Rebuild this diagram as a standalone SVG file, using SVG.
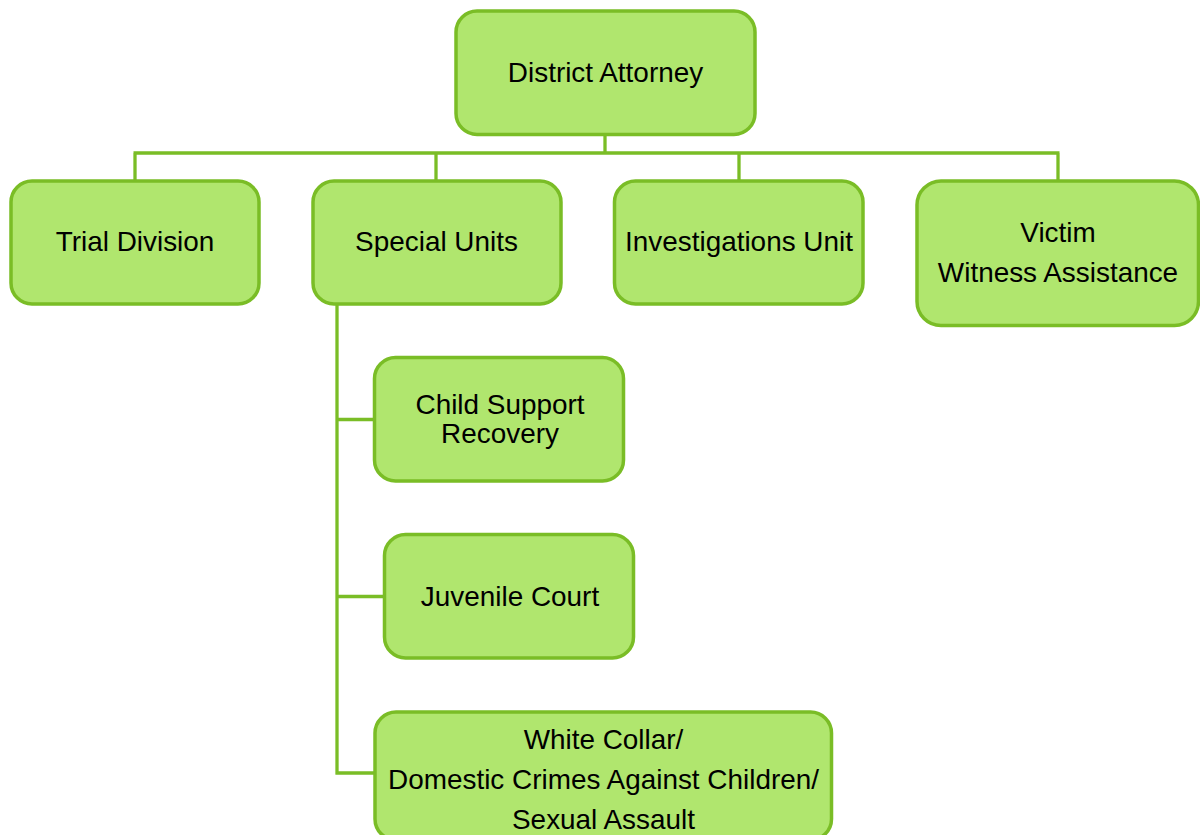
<svg xmlns="http://www.w3.org/2000/svg" width="1200" height="835" viewBox="0 0 1200 835">
<style>
.box{fill:#b0e66e;stroke:#7abd26;stroke-width:3.5}
.lbl{font-family:"Liberation Sans",Arial,sans-serif;font-size:27.9px;fill:#000;text-anchor:middle}
.con{fill:none;stroke:#7abd26;stroke-width:3.3}
</style>
<rect width="1200" height="835" fill="#fff"/>
<g id="connectors">
<path class="con" d="M605,135 V153 M133.5,153 H1059.5 M135,153 V180 M436,153 V180 M739,153 V180 M1058,153 V180"/>
<path class="con" d="M337,305 V774.5 M337,419.5 H374 M337,596.5 H384 M335.5,773 H375"/>
</g>
<g id="district-attorney">
<rect class="box" x="456" y="11" width="299" height="123.5" rx="21"/>
<text class="lbl" x="605.5" y="82">District Attorney</text>
</g>
<g id="trial-division">
<rect class="box" x="11" y="181" width="248" height="123" rx="21"/>
<text class="lbl" x="135" y="251">Trial Division</text>
</g>
<g id="special-units">
<rect class="box" x="313" y="181" width="248" height="123" rx="21"/>
<text class="lbl" x="436.5" y="251">Special Units</text>
</g>
<g id="investigations-unit">
<rect class="box" x="614.5" y="181" width="248.5" height="123" rx="21"/>
<text class="lbl" x="739" y="251">Investigations Unit</text>
</g>
<g id="victim-witness">
<rect class="box" x="917" y="181" width="281.5" height="144.5" rx="24"/>
<text class="lbl" x="1058" y="242">Victim</text>
<text class="lbl" x="1058" y="282">Witness Assistance</text>
</g>
<g id="child-support">
<rect class="box" x="374.5" y="357.5" width="249" height="123.5" rx="21"/>
<text class="lbl" x="500" y="414">Child Support</text>
<text class="lbl" x="500" y="443">Recovery</text>
</g>
<g id="juvenile-court">
<rect class="box" x="384.5" y="534.5" width="249" height="123.5" rx="21"/>
<text class="lbl" x="510" y="605.5">Juvenile Court</text>
</g>
<g id="white-collar">
<rect class="box" x="375" y="712" width="456.5" height="128" rx="21"/>
<text class="lbl" x="603.5" y="749">White Collar/</text>
<text class="lbl" x="603.5" y="789">Domestic Crimes Against Children/</text>
<text class="lbl" x="603.5" y="829">Sexual Assault</text>
</g>
</svg>
